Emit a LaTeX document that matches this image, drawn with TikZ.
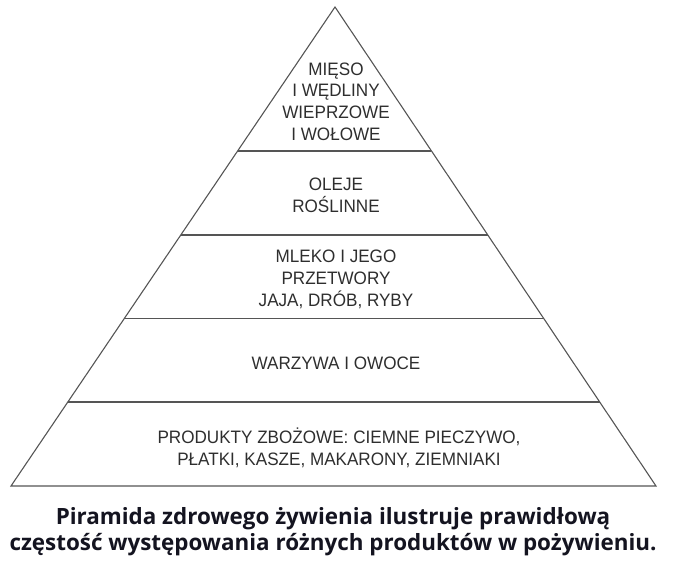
\documentclass[tikz,border=0pt]{standalone}
\usepackage{fontspec}
\setmainfont{Liberation Sans}
\newfontfamily\pyrfont[FakeStretch=0.95]{Liberation Sans}
\newfontfamily\capfont{Open Sans}
\usetikzlibrary{calc}
\definecolor{linegray}{HTML}{555555}
\definecolor{textgray}{HTML}{2E2E2E}
\definecolor{capblack}{HTML}{141420}
\begin{document}
\begin{tikzpicture}[x=1pt,y=-1pt,
  edge/.style={draw=linegray,line width=1.1pt,line join=miter},
  band/.style={align=center,text=textgray,inner sep=0pt,
    font=\pyrfont\fontsize{18}{21.7}\selectfont},
  captext/.style={anchor=base,text=capblack,inner sep=0pt,
    font=\capfont\bfseries\fontsize{22.4}{26}\selectfont}]
\useasboundingbox (0,0) rectangle (675,565);
\coordinate (A) at (335,7);
\coordinate (L) at (11,486);
\coordinate (R) at (656,486);
\coordinate (l1) at ($(L)!0.6994!(A)$);
\coordinate (r1) at ($(R)!0.6994!(A)$);
\coordinate (l2) at ($(L)!0.5240!(A)$);
\coordinate (r2) at ($(R)!0.5240!(A)$);
\coordinate (l3) at ($(L)!0.3497!(A)$);
\coordinate (r3) at ($(R)!0.3497!(A)$);
\coordinate (l4) at ($(L)!0.1754!(A)$);
\coordinate (r4) at ($(R)!0.1754!(A)$);
\draw[edge] (L) -- (A) -- (R) -- cycle;
\draw[edge] (l1) -- (r1);
\draw[edge] (l2) -- (r2);
\draw[edge] (l3) -- (r3);
\draw[edge] (l4) -- (r4);
\node[band] (t1) at (336,101.5) {MIĘSO\\I WĘDLINY\\WIEPRZOWE\\I WOŁOWE};
\node[band] (t2) at (336,195) {OLEJE\\ROŚLINNE};
\node[band] (t3) at (336,279.3) {MLEKO I JEGO\\PRZETWORY\\JAJA, DRÓB, RYBY};
\node[band] (t4) at (336,363.5) {WARZYWA I OWOCE};
\node[band] (t5) at (339,447.9) {PRODUKTY ZBOŻOWE: CIEMNE PIECZYWO,\\PŁATKI, KASZE, MAKARONY, ZIEMNIAKI};
\node[captext] (c1) at (333,524) {Piramida zdrowego żywienia ilustruje prawidłową};
\node[captext] (c2) at (333,550) {częstość występowania różnych produktów w pożywieniu.};
\end{tikzpicture}
\end{document}
